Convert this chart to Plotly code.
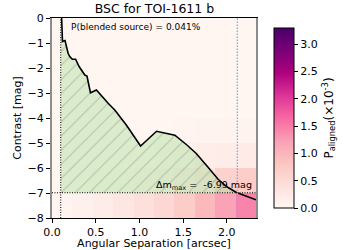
import numpy as np
import plotly.graph_objects as go

# ---- data ----
# contrast curve (separation in arcsec, contrast in mag)
sep = [0.105, 0.12, 0.149, 0.184, 0.203, 0.232, 0.27, 0.31, 0.375, 0.40, 0.44, 0.508,
       0.642, 0.718, 0.852, 1.013, 1.196, 1.405, 1.55, 1.65, 1.78, 1.90, 2.00, 2.11, 2.333]
contrast = [0.5, -0.94, -0.90, -1.41, -1.54, -1.65, -1.65, -1.94, -2.28, -2.32, -2.99, -2.88,
            -3.41, -3.68, -4.29, -5.12, -4.53, -4.69, -5.10, -5.42, -5.95, -6.45, -6.75, -6.98, -7.27]

# P_aligned heatmap (x 1e-3), columns = separation bins, rows = contrast bins
sep_edges = [0.0, 0.2333, 0.4667, 0.7, 0.9333, 1.1667, 1.4, 1.6333, 1.8667, 2.1, 2.3333]
mag_edges = [-8, -7, -6, -5, -4, -3, -2, -1, 0]
p_aligned = [
    [0.05, 0.12, 0.20, 0.30, 0.42, 0.55, 0.72, 0.95, 1.20, 1.45],
    [0.03, 0.04, 0.05, 0.06, 0.08, 0.12, 0.18, 0.30, 0.62, 0.70],
    [0.02, 0.02, 0.03, 0.03, 0.04, 0.05, 0.08, 0.18, 0.20, 0.22],
    [0.02, 0.02, 0.02, 0.03, 0.03, 0.04, 0.05, 0.07, 0.08, 0.08],
    [0.02, 0.02, 0.02, 0.02, 0.03, 0.03, 0.03, 0.04, 0.04, 0.04],
    [0.02, 0.02, 0.02, 0.02, 0.02, 0.03, 0.03, 0.03, 0.03, 0.03],
    [0.02, 0.02, 0.02, 0.02, 0.02, 0.02, 0.03, 0.03, 0.03, 0.03],
    [0.02, 0.02, 0.02, 0.02, 0.02, 0.02, 0.02, 0.03, 0.03, 0.03],
]
p_max = 3.3

inner_working_angle = 0.1
delta_mag_max = -6.99
outer_sep = 2.12
p_blended = "0.041%"

x_ticks = [0.0, 0.5, 1.0, 1.5, 2.0]
y_ticks = [0, -1, -2, -3, -4, -5, -6, -7, -8]
cb_ticks = [0.0, 0.5, 1.0, 1.5, 2.0, 2.5, 3.0]

FONT = "DejaVu Sans"

# ---- fill polygon between curve and delta_mag_max ----
sx = np.array(sep)
sy = np.array(contrast)
poly_x = [inner_working_angle, inner_working_angle]
poly_y = [delta_mag_max, float(sy[0])]
for i in range(len(sx)):
    if sy[i] >= delta_mag_max:
        poly_x.append(float(sx[i])); poly_y.append(float(sy[i]))
    if i + 1 < len(sx) and (sy[i] - delta_mag_max) * (sy[i + 1] - delta_mag_max) < 0:
        t = (delta_mag_max - sy[i]) / (sy[i + 1] - sy[i])
        poly_x.append(float(sx[i] + t * (sx[i + 1] - sx[i]))); poly_y.append(delta_mag_max)
        break
poly_x.append(inner_working_angle); poly_y.append(delta_mag_max)

fig = go.Figure()

fig.add_trace(go.Heatmap(
    x=sep_edges, y=mag_edges, z=p_aligned, colorscale="RdPu", zmin=0, zmax=p_max,
    showscale=True,
    colorbar=dict(
        x=1.04, xanchor="left", xref="paper", y=0.5, yanchor="middle", len=1.0, lenmode="fraction",
        thickness=20, outlinecolor="black", outlinewidth=1,
        tickvals=cb_ticks, ticktext=[f"{v:.1f}" for v in cb_ticks],
        ticks="outside", ticklen=4, tickcolor="black",
        tickfont=dict(family=FONT, size=11, color="black"),
        title=dict(text="P<sub>aligned</sub>(×10<sup>-3</sup>)", side="right",
                   font=dict(family=FONT, size=12, color="black")),
    ),
    hoverinfo="skip",
))

fig.add_trace(go.Scatter(
    x=poly_x, y=poly_y, mode="lines", line=dict(width=0), fill="toself",
    fillcolor="rgba(120,210,100,0.25)",
    fillpattern=dict(shape="/", size=10, solidity=0.11, fgcolor="rgba(120,120,120,0.75)",
                     bgcolor="rgba(120,210,100,0.27)", fillmode="overlay"),
    showlegend=False, hoverinfo="skip",
))

fig.add_trace(go.Scatter(
    x=sep, y=contrast, mode="lines", line=dict(color="black", width=1.6),
    showlegend=False, hoverinfo="skip",
))

# reference lines
fig.add_trace(go.Scatter(
    x=[0, sep_edges[-1]], y=[delta_mag_max, delta_mag_max], mode="lines",
    line=dict(color="black", width=1, dash="1px,1.5px"), showlegend=False, hoverinfo="skip"))
fig.add_trace(go.Scatter(
    x=[inner_working_angle, inner_working_angle], y=[mag_edges[0], mag_edges[-1]], mode="lines",
    line=dict(color="black", width=1, dash="1px,1.5px"), showlegend=False, hoverinfo="skip"))
fig.add_trace(go.Scatter(
    x=[outer_sep, outer_sep], y=[mag_edges[0], mag_edges[-1]], mode="lines",
    line=dict(color="#7fb0dc", width=1.3, dash="1.5px,1.5px"), showlegend=False, hoverinfo="skip"))

fig.add_annotation(x=0.20, y=-0.34, xref="x", yref="y", text=f"P(blended source) = {p_blended}",
                   showarrow=False, xanchor="left", yanchor="middle",
                   font=dict(family=FONT, size=9, color="black"))
fig.add_annotation(x=2.31, y=-6.70, xref="x", yref="y",
                   text=f"Δm<sub>max</sub> =  {delta_mag_max:.2f} mag",
                   showarrow=False, xanchor="right", yanchor="middle",
                   font=dict(family=FONT, size=9.5, color="black"))

fig.update_layout(
    width=347, height=250,
    margin=dict(l=52, r=91, t=18, b=32, autoexpand=False),
    paper_bgcolor="white", plot_bgcolor="white",
    font=dict(family=FONT, size=11, color="black"),
    title=dict(text="BSC for TOI-1611 b", x=0.445, xanchor="center", y=0.966, yanchor="middle",
               font=dict(family=FONT, size=12.5, color="black")),
    xaxis=dict(range=[0, sep_edges[-1]], tickvals=x_ticks, ticktext=[f"{v:.1f}" for v in x_ticks],
               ticks="outside", ticklen=4, tickcolor="black", showgrid=False, zeroline=False,
               showline=True, linecolor="black", linewidth=1.2, mirror=True, automargin=False,
               title=dict(text="Angular Separation [arcsec]", standoff=2,
                          font=dict(family=FONT, size=11)),
               tickfont=dict(family=FONT, size=11)),
    yaxis=dict(range=[mag_edges[0], mag_edges[-1]], tickvals=y_ticks,
               ticks="outside", ticklen=4, tickcolor="black", showgrid=False, zeroline=False,
               showline=True, linecolor="#8c8c8c", linewidth=2, mirror=True, automargin=False,
               title=dict(text="Contrast [mag]", standoff=4, font=dict(family=FONT, size=11)),
               tickfont=dict(family=FONT, size=11)),
)

fig.write_html("out.html", config={"displayModeBar": False},
               post_script="document.body.style.margin='0px';")
